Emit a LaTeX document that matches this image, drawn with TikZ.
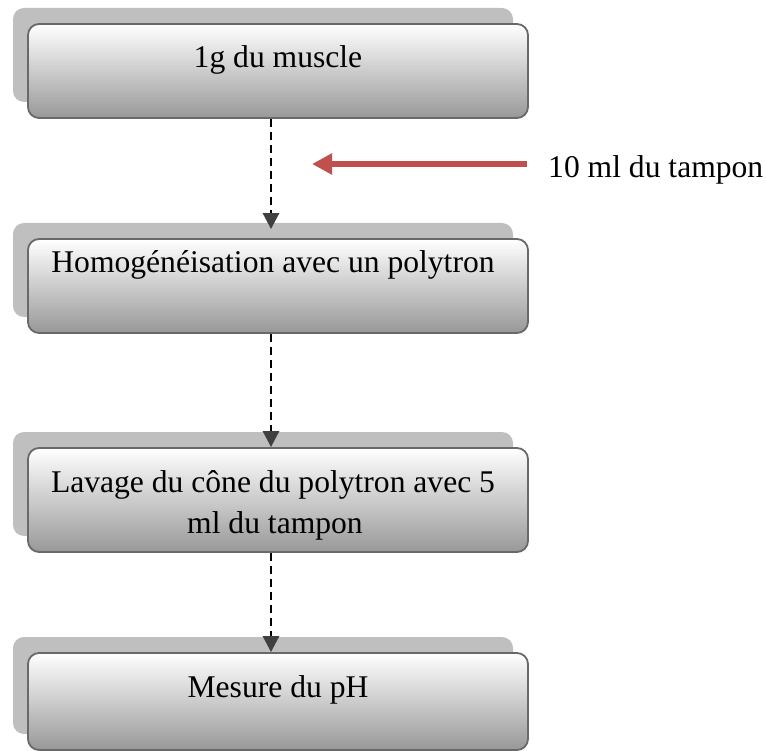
\documentclass[tikz,border=0pt]{standalone}
\usepackage{fontspec}
\setmainfont{Liberation Serif}
\usetikzlibrary{arrows.meta,shadows}
\definecolor{shadowgray}{RGB}{191,191,191}
\definecolor{bordergray}{RGB}{105,105,105}
\definecolor{botgray}{RGB}{152,152,152}
\definecolor{tipgray}{RGB}{64,64,64}
\definecolor{arrowred}{RGB}{192,80,77}
\begin{document}
\begin{tikzpicture}[x=1pt,y=-1pt,
  stepbox/.style={draw=bordergray, line width=1.8pt, rounded corners=11pt,
    top color=white, bottom color=botgray,
    minimum width=500pt, inner xsep=0pt, inner ysep=0pt,
    font=\fontsize{31.6}{41}\selectfont, align=center,
    general shadow={shadow xshift=-15pt, shadow yshift=16pt, fill=shadowgray, draw=none}},
  flow/.style={line width=2.8pt, dash pattern=on 8pt off 5pt,
    -{Triangle[length=16pt,width=16pt,color=tipgray]}},
  redarrow/.style={line width=6pt, draw=arrowred,
    -{Triangle[length=20pt,width=20pt,color=arrowred]}}]
\useasboundingbox (0,0) rectangle (766,751);
\node[stepbox, text height=44pt, text depth=50pt] (b1) at (278,71) {1g du muscle};
\node[stepbox, text height=34pt, text depth=60pt] (b2) at (278,286) {Homogénéisation avec un polytron\hspace*{10pt}};
\node[stepbox, minimum height=104pt] (b3) at (278,500) {\rule{0pt}{32pt}Lavage du cône du polytron avec 5\hspace*{10pt}\\ml du tampon\hspace*{6pt}};
\node[stepbox, text height=44pt, text depth=53pt] (b4) at (278,701.5) {Mesure du pH};
\node[anchor=base west, inner sep=0pt, font=\fontsize{31.6}{38}\selectfont] (lbl) at (548,178) {10 ml du tampon};
\coordinate (rs) at (527,164);
\coordinate (rt) at (312,164);
\draw[redarrow] (rs) -- (rt);
\draw[flow, shorten >=9pt] ([xshift=-7pt]b1.south) -- ([xshift=-7pt]b2.north);
\draw[flow] ([xshift=-7pt]b2.south) -- ([xshift=-7pt]b3.north);
\draw[flow] ([xshift=-7pt]b3.south) -- ([xshift=-7pt]b4.north);
\end{tikzpicture}
\end{document}
